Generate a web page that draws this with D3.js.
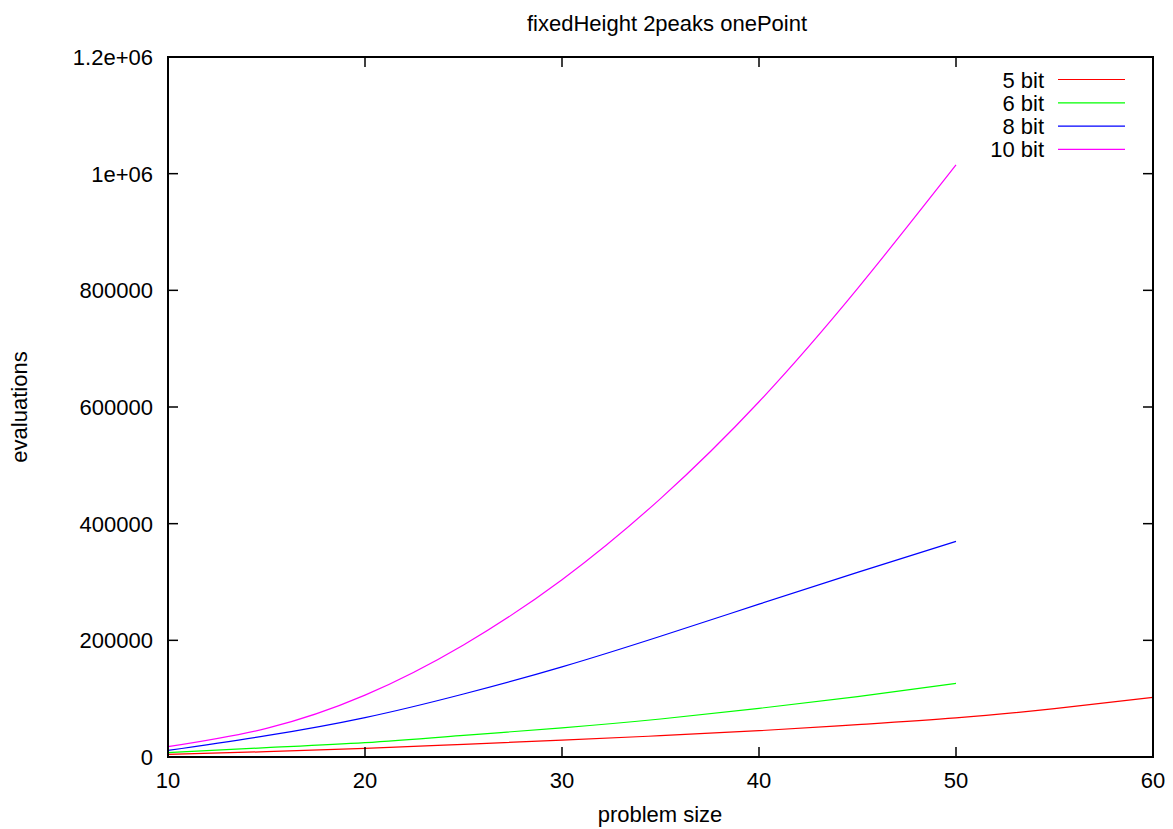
<!DOCTYPE html>
<html>
<head>
<meta charset="utf-8">
<script src="https://cdn.jsdelivr.net/npm/d3@7"></script>
<style>
  body { margin: 0; background: #fff; }
  svg { display: block; font-family: "Liberation Sans", Arial, sans-serif; }
</style>
</head>
<body>
<svg id="chart"></svg>
<script>
// values
var sizes = [10, 15, 20, 25, 30, 35, 40, 45, 50];
var sizes5 = [10, 15, 20, 25, 30, 35, 40, 45, 50, 55, 60];
var bit5 = [4600, 9100, 14900, 21700, 28800, 36600, 45100, 55500, 67000, 83000, 102300];
var bit6 = [7400, 16000, 24500, 37000, 50000, 65100, 83400, 103400, 126300];
var bit8 = [11200, 36500, 67500, 108000, 154500, 207000, 262000, 316500, 369700];
var bit10 = [17700, 49000, 106000, 192000, 304000, 443000, 609000, 803000, 1015000];
var seriesNames = ["5 bit", "6 bit", "8 bit", "10 bit"];
var seriesColors = ["#ff0000", "#00ff00", "#0000ff", "#ff00ff"];
var xTicks = [10, 20, 30, 40, 50, 60];
var yTicks = [0, 200000, 400000, 600000, 800000, 1000000, 1200000];
var yTickLabels = ["0", "200000", "400000", "600000", "800000", "1e+06", "1.2e+06"];

var W = 1173, H = 829;
var margin = {top: 57, right: 20, bottom: 72, left: 168};
var width = W - margin.left - margin.right,
    height = H - margin.top - margin.bottom;

var svg = d3.select("#chart")
    .attr("width", W)
    .attr("height", H);

var x = d3.scaleLinear().domain([10, 60]).range([margin.left, margin.left + width]);
var y = d3.scaleLinear().domain([0, 1200000]).range([margin.top + height, margin.top]);

var series = [
    {name: seriesNames[0], xs: sizes5, ys: bit5, color: seriesColors[0]},
    {name: seriesNames[1], xs: sizes, ys: bit6, color: seriesColors[1]},
    {name: seriesNames[2], xs: sizes, ys: bit8, color: seriesColors[2]},
    {name: seriesNames[3], xs: sizes, ys: bit10, color: seriesColors[3]}
];

var fontSize = 22;

// title
svg.append("text")
    .attr("x", 667)
    .attr("y", 31)
    .attr("text-anchor", "middle")
    .attr("font-size", fontSize)
    .text("fixedHeight 2peaks onePoint");

// curves
var line = d3.line()
    .x(function(d) { return x(d[0]); })
    .y(function(d) { return y(d[1]); })
    .curve(d3.curveNatural);

svg.append("g")
    .selectAll("path")
    .data(series)
    .enter()
    .append("path")
    .attr("fill", "none")
    .attr("stroke", function(d) { return d.color; })
    .attr("stroke-width", 1.2)
    .attr("d", function(d) { return line(d3.zip(d.xs, d.ys)); });

// gnuplot-style inward ticks on all sides
var tickLen = 10;
var ticks = svg.append("g").attr("stroke", "#000").attr("stroke-width", 1.5);

xTicks.forEach(function(t) {
    ticks.append("line")
        .attr("x1", x(t)).attr("x2", x(t))
        .attr("y1", y(0)).attr("y2", y(0) - tickLen);
    ticks.append("line")
        .attr("x1", x(t)).attr("x2", x(t))
        .attr("y1", y(1200000)).attr("y2", y(1200000) + tickLen);
});
yTicks.forEach(function(t) {
    ticks.append("line")
        .attr("x1", x(10)).attr("x2", x(10) + tickLen)
        .attr("y1", y(t)).attr("y2", y(t));
    ticks.append("line")
        .attr("x1", x(60)).attr("x2", x(60) - tickLen)
        .attr("y1", y(t)).attr("y2", y(t));
});

// frame
svg.append("rect")
    .attr("x", x(10))
    .attr("y", y(1200000))
    .attr("width", x(60) - x(10))
    .attr("height", y(0) - y(1200000))
    .attr("fill", "none")
    .attr("stroke", "#000")
    .attr("stroke-width", 2);

// tick labels
svg.append("g")
    .selectAll("text")
    .data(xTicks)
    .enter()
    .append("text")
    .attr("x", function(d) { return x(d); })
    .attr("y", y(0) + 31)
    .attr("text-anchor", "middle")
    .attr("font-size", fontSize)
    .text(function(d) { return d; });

svg.append("g")
    .selectAll("text")
    .data(yTicks)
    .enter()
    .append("text")
    .attr("x", x(10) - 15)
    .attr("y", function(d) { return y(d) + 8; })
    .attr("text-anchor", "end")
    .attr("font-size", fontSize)
    .text(function(d, i) { return yTickLabels[i]; });

// axis titles
svg.append("text")
    .attr("x", 660)
    .attr("y", 822)
    .attr("text-anchor", "middle")
    .attr("font-size", fontSize)
    .text("problem size");

svg.append("text")
    .attr("transform", "translate(27," + (margin.top + height / 2) + ") rotate(-90)")
    .attr("text-anchor", "middle")
    .attr("font-size", fontSize)
    .text("evaluations");

// legend
var legend = svg.append("g")
    .selectAll("g")
    .data(series)
    .enter()
    .append("g")
    .attr("transform", function(d, i) { return "translate(0," + (79.5 + i * 23.3) + ")"; });

legend.append("text")
    .attr("x", 1044)
    .attr("y", 8)
    .attr("text-anchor", "end")
    .attr("font-size", fontSize)
    .text(function(d) { return d.name; });

legend.append("line")
    .attr("x1", 1058).attr("x2", 1125)
    .attr("y1", 0).attr("y2", 0)
    .attr("stroke", function(d) { return d.color; })
    .attr("stroke-width", 1.2);
</script>
</body>
</html>
